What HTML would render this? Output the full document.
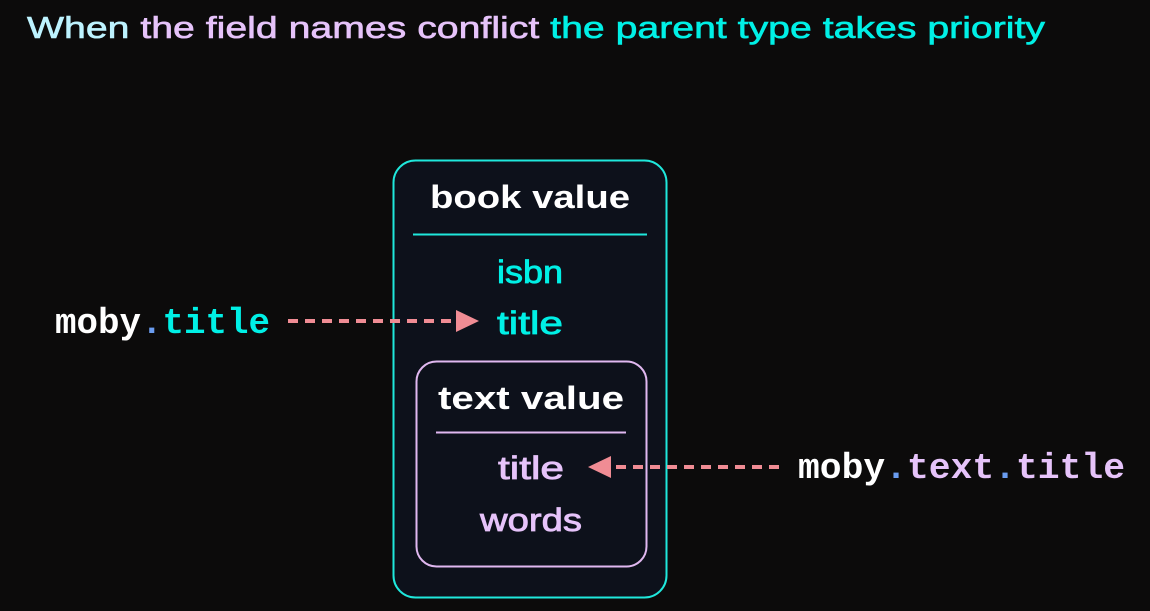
<!DOCTYPE html>
<html><head><meta charset="utf-8"><style>
html,body{margin:0;padding:0;background:#0c0b0b;}
body{width:1150px;height:611px;overflow:hidden;position:relative;}
</style></head><body>
<svg width="1150" height="611" xmlns="http://www.w3.org/2000/svg" style="position:absolute;left:0;top:0">
<rect width="1150" height="611" fill="#0c0b0b"/>
<text x="27" y="38" font-family="Liberation Sans, sans-serif" font-size="31" stroke-width="0.6" textLength="1018" lengthAdjust="spacingAndGlyphs"><tspan fill="#bdf3ff" stroke="#bdf3ff">When </tspan><tspan fill="#e6c3fa" stroke="#e6c3fa">the field names conflict </tspan><tspan fill="#00f0e6" stroke="#00f0e6">the parent type takes priority</tspan></text>
<rect x="393.5" y="160.5" width="273" height="437" rx="22" fill="#0d111b" stroke="#1fe8dc" stroke-width="2"/>
<text x="430" y="208" font-family="Liberation Sans, sans-serif" font-weight="bold" font-size="32" fill="#ffffff" textLength="200" lengthAdjust="spacingAndGlyphs">book value</text>
<line x1="413" y1="234.5" x2="647" y2="234.5" stroke="#1fe8dc" stroke-width="2"/>
<g font-family="Liberation Sans, sans-serif" font-size="32" stroke-width="0.8">
<text x="497" y="283" fill="#00f0e6" stroke="#00f0e6" textLength="66" lengthAdjust="spacingAndGlyphs">isbn</text>
<text x="497" y="334" fill="#00f0e6" stroke="#00f0e6" textLength="66" lengthAdjust="spacingAndGlyphs">title</text>
<text x="498" y="479" fill="#e6c3fa" stroke="#e6c3fa" textLength="66" lengthAdjust="spacingAndGlyphs">title</text>
<text x="480" y="531" fill="#e6c3fa" stroke="#e6c3fa" textLength="102" lengthAdjust="spacingAndGlyphs">words</text>
</g>
<rect x="416.5" y="361.5" width="230" height="205" rx="20" fill="#0d111b" stroke="#e0b8f0" stroke-width="2"/>
<text x="438" y="409" font-family="Liberation Sans, sans-serif" font-weight="bold" font-size="32" fill="#ffffff" textLength="186" lengthAdjust="spacingAndGlyphs">text value</text>
<line x1="436" y1="432.5" x2="626" y2="432.5" stroke="#e0b8f0" stroke-width="2"/>
<g font-family="Liberation Sans, sans-serif" font-size="32" stroke-width="0.8">
<text x="498" y="479" fill="#e6c3fa" stroke="#e6c3fa" textLength="66" lengthAdjust="spacingAndGlyphs">title</text>
<text x="480" y="531" fill="#e6c3fa" stroke="#e6c3fa" textLength="102" lengthAdjust="spacingAndGlyphs">words</text>
</g>
<text x="55" y="333" font-family="Liberation Mono, monospace" font-weight="bold" font-size="36" textLength="215" lengthAdjust="spacingAndGlyphs"><tspan fill="#ffffff">moby</tspan><tspan fill="#6a9cf0">.</tspan><tspan fill="#00f0e6">title</tspan></text>
<text x="798" y="478" font-family="Liberation Mono, monospace" font-weight="bold" font-size="36" textLength="327" lengthAdjust="spacingAndGlyphs"><tspan fill="#ffffff">moby</tspan><tspan fill="#6a9cf0">.</tspan><tspan fill="#e6c3fa">text</tspan><tspan fill="#6a9cf0">.</tspan><tspan fill="#e6c3fa">title</tspan></text>
<line x1="288" y1="321" x2="457" y2="321" stroke="#f08c94" stroke-width="4" stroke-dasharray="10,7"/>
<polygon points="456,310 479,321 456,332" fill="#f08c94"/>
<line x1="779" y1="467" x2="610" y2="467" stroke="#f08c94" stroke-width="4" stroke-dasharray="10,7"/>
<polygon points="611,456 588,467 611,478" fill="#f08c94"/>
</svg>
</body></html>
